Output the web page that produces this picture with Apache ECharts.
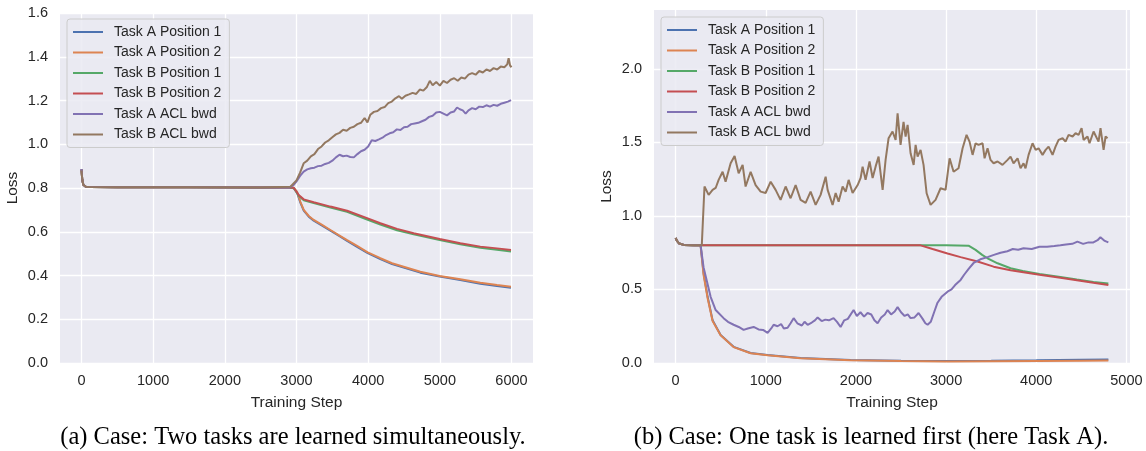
<!DOCTYPE html>
<html>
<head>
<meta charset="utf-8">
<script src="https://cdn.jsdelivr.net/npm/echarts@6/dist/echarts.min.js"></script>
<style>
html,body{margin:0;padding:0;background:#fff;}
#chart{width:1146px;height:451px;}
</style>
</head>
<body>
<div id="chart"></div>
<script>
// ---------- shared ----------
const seriesNames = ['Task A Position 1','Task A Position 2','Task B Position 1','Task B Position 2','Task A ACL bwd','Task B ACL bwd'];
const colors = ['#4C72B0','#DD8452','#55A868','#C44E52','#8172B3','#937860'];
const xTicksA = [0,1000,2000,3000,4000,5000,6000];
const yTicksA = [0,0.2,0.4,0.6,0.8,1.0,1.2,1.4,1.6];
const xTicksB = [0,1000,2000,3000,4000,5000];
const yTicksB = [0,0.5,1.0,1.5,2.0];
const captionA = '(a) Case: Two tasks are learned simultaneously.';
const captionB = '(b) Case: One task is learned first (here Task A).';

// ---------- plot (a): two tasks learned simultaneously ----------
const aBlueSteps = [0,10,25,60,125,500,1500,2500,2900,2961,3008,3054,3101,3171,3240,3357,3473,3589,3706,3845,3994,4170,4333,4495,4728,4998,5286,5565,5798,5993];
const aBlueLoss  = [0.885,0.84,0.815,0.806,0.804,0.803,0.803,0.802,0.802,0.799,0.779,0.733,0.697,0.669,0.651,0.628,0.605,0.582,0.558,0.531,0.502,0.475,0.452,0.436,0.413,0.395,0.379,0.362,0.352,0.344];
const aOrangeSteps = [0,10,25,60,125,500,1500,2500,2900,2961,3008,3054,3101,3171,3240,3357,3473,3589,3706,3845,3994,4170,4333,4495,4728,4998,5286,5565,5798,5993];
const aOrangeLoss  = [0.885,0.84,0.815,0.806,0.804,0.803,0.803,0.802,0.802,0.801,0.783,0.737,0.70,0.672,0.654,0.631,0.608,0.585,0.562,0.535,0.506,0.479,0.456,0.44,0.417,0.398,0.383,0.367,0.357,0.349];
const aGreenSteps = [0,10,25,60,125,500,1500,2500,2900,2961,3031,3101,3240,3473,3706,3994,4170,4403,4635,4998,5286,5565,5798,5993];
const aGreenLoss  = [0.885,0.84,0.815,0.806,0.804,0.803,0.803,0.802,0.802,0.800,0.765,0.744,0.731,0.711,0.691,0.655,0.633,0.607,0.588,0.562,0.543,0.527,0.518,0.510];
const aRedSteps = [0,10,25,60,125,500,1500,2500,2900,2961,3031,3101,3240,3473,3706,3994,4170,4403,4635,4998,5286,5565,5798,5993];
const aRedLoss  = [0.885,0.84,0.815,0.806,0.804,0.803,0.803,0.802,0.802,0.801,0.768,0.748,0.735,0.715,0.696,0.661,0.639,0.613,0.593,0.567,0.547,0.532,0.524,0.517];
const aPurpleSteps = [0,10,25,60,125,500,1500,2500,2900,2961,3000,3050,3100,3150,3200,3250,3300,3350,3400,3450,3500,3550,3600,3650,3700,3750,3800,3850,3900,3950,4000,4050,4100,4150,4200,4250,4300,4350,4400,4450,4500,4550,4600,4650,4700,4750,4800,4850,4900,4950,5000,5050,5100,5150,5200,5240,5280,5320,5360,5400,5450,5500,5550,5600,5650,5700,5750,5800,5850,5900,5950,5993];
const aPurpleLoss  = [0.887,0.84,0.815,0.806,0.804,0.803,0.803,0.802,0.802,0.814,0.83,0.855,0.875,0.885,0.89,0.893,0.9,0.902,0.91,0.915,0.925,0.94,0.952,0.945,0.948,0.942,0.94,0.955,0.968,0.975,0.99,1.018,1.015,1.022,1.03,1.042,1.05,1.055,1.068,1.065,1.078,1.08,1.092,1.095,1.098,1.105,1.112,1.125,1.13,1.145,1.148,1.14,1.132,1.145,1.15,1.168,1.16,1.155,1.14,1.155,1.165,1.16,1.172,1.17,1.178,1.172,1.18,1.176,1.185,1.19,1.195,1.202];
const aBrownSteps = [0,10,25,60,125,500,1500,2500,2915,3000,3050,3100,3150,3200,3250,3300,3350,3400,3450,3500,3550,3600,3650,3700,3750,3800,3850,3900,3950,3990,4030,4080,4130,4180,4230,4280,4330,4380,4430,4470,4520,4570,4620,4670,4720,4770,4820,4860,4900,4950,5000,5050,5100,5150,5200,5250,5300,5350,5400,5450,5500,5550,5600,5650,5700,5750,5800,5850,5900,5940,5960,5980,6000];
const aBrownLoss  = [0.88,0.84,0.815,0.806,0.804,0.803,0.803,0.802,0.806,0.835,0.87,0.913,0.925,0.945,0.955,0.978,0.99,1.008,1.018,1.032,1.045,1.052,1.066,1.062,1.075,1.08,1.092,1.098,1.12,1.10,1.135,1.148,1.152,1.165,1.17,1.188,1.195,1.21,1.22,1.208,1.222,1.228,1.235,1.23,1.25,1.245,1.262,1.29,1.27,1.285,1.268,1.29,1.28,1.295,1.302,1.29,1.305,1.30,1.318,1.325,1.318,1.335,1.328,1.342,1.335,1.348,1.342,1.355,1.352,1.365,1.393,1.36,1.352];

// ---------- plot (b): one task learned first ----------
const bBlueSteps = [0,15,40,90,200,277,310,355,410,499,643,832,1020,1386,1941,2500,3000,3500,4000,4500,4800];
const bBlueLoss  = [0.85,0.83,0.812,0.803,0.801,0.80,0.61,0.45,0.29,0.19,0.11,0.068,0.054,0.034,0.02,0.015,0.013,0.015,0.018,0.022,0.024];
const bOrangeSteps = [0,15,40,90,200,277,310,355,410,499,643,832,1020,1386,1941,2500,3000,3500,4000,4500,4800];
const bOrangeLoss  = [0.85,0.83,0.812,0.803,0.801,0.80,0.60,0.44,0.285,0.188,0.108,0.066,0.052,0.032,0.018,0.013,0.011,0.012,0.014,0.016,0.017];
const bGreenSteps = [0,15,40,90,200,1000,2000,3000,3249,3327,3400,3460,3571,3715,3850,4036,4268,4450,4634,4800];
const bGreenLoss  = [0.85,0.83,0.812,0.803,0.801,0.801,0.801,0.801,0.798,0.769,0.735,0.712,0.678,0.644,0.625,0.605,0.585,0.567,0.55,0.54];
const bRedSteps = [0,15,40,90,200,1000,2000,2717,2850,3016,3161,3349,3527,3715,4036,4268,4634,4800];
const bRedLoss  = [0.85,0.83,0.812,0.803,0.801,0.801,0.80,0.80,0.775,0.745,0.72,0.69,0.655,0.63,0.60,0.58,0.545,0.53];
const bPurpleSteps = [0,15,40,90,200,277,310,388,444,532,580,643,700,754,800,865,920,970,1020,1060,1087,1130,1170,1200,1242,1275,1309,1350,1400,1430,1464,1510,1545,1575,1620,1660,1700,1752,1790,1830,1870,1910,1974,2010,2050,2090,2129,2170,2205,2240,2280,2320,2351,2390,2430,2462,2500,2540,2575,2606,2650,2695,2740,2770,2795,2830,2870,2905,2950,3016,3060,3100,3161,3200,3250,3305,3380,3460,3530,3604,3680,3740,3800,3859,3950,4036,4120,4200,4268,4330,4400,4457,4520,4580,4634,4680,4712,4760,4800];
const bPurpleLoss  = [0.85,0.83,0.812,0.803,0.801,0.80,0.65,0.45,0.36,0.305,0.28,0.26,0.245,0.225,0.235,0.245,0.228,0.225,0.205,0.235,0.26,0.25,0.265,0.235,0.24,0.27,0.305,0.27,0.255,0.28,0.26,0.275,0.29,0.31,0.285,0.295,0.29,0.305,0.28,0.245,0.29,0.30,0.36,0.32,0.345,0.315,0.34,0.33,0.29,0.27,0.31,0.33,0.36,0.33,0.35,0.38,0.345,0.32,0.33,0.305,0.31,0.34,0.30,0.27,0.26,0.28,0.35,0.41,0.45,0.485,0.50,0.53,0.565,0.60,0.64,0.68,0.705,0.72,0.735,0.75,0.76,0.775,0.77,0.78,0.775,0.79,0.79,0.795,0.80,0.805,0.81,0.825,0.81,0.82,0.82,0.835,0.855,0.83,0.82];
const bBrownSteps = [0,15,40,90,200,290,320,366,410,444,477,521,554,610,654,699,743,776,832,887,943,998,1054,1109,1164,1220,1275,1331,1386,1442,1497,1553,1608,1664,1686,1741,1775,1808,1852,1886,1919,1963,2019,2052,2074,2107,2151,2185,2218,2251,2296,2329,2362,2406,2440,2462,2495,2528,2551,2573,2606,2640,2662,2684,2717,2750,2784,2828,2883,2939,2994,3039,3083,3138,3183,3227,3260,3294,3327,3360,3405,3427,3460,3493,3527,3571,3626,3682,3715,3748,3793,3826,3859,3881,3915,3959,3993,4026,4070,4104,4137,4181,4214,4248,4292,4325,4359,4403,4436,4470,4503,4525,4569,4591,4636,4658,4691,4713,4747,4769,4791];
const bBrownLoss  = [0.85,0.83,0.812,0.803,0.801,0.80,1.20,1.143,1.177,1.19,1.245,1.30,1.233,1.358,1.408,1.29,1.347,1.20,1.30,1.21,1.165,1.156,1.233,1.177,1.109,1.20,1.12,1.21,1.109,1.088,1.165,1.075,1.143,1.267,1.177,1.075,1.156,1.097,1.20,1.165,1.245,1.156,1.21,1.258,1.335,1.245,1.37,1.258,1.335,1.403,1.177,1.381,1.528,1.574,1.517,1.698,1.483,1.64,1.54,1.619,1.426,1.347,1.483,1.403,1.449,1.347,1.154,1.075,1.109,1.188,1.177,1.392,1.30,1.324,1.46,1.551,1.505,1.415,1.494,1.483,1.494,1.392,1.46,1.381,1.358,1.37,1.347,1.381,1.403,1.358,1.392,1.324,1.358,1.324,1.415,1.494,1.449,1.46,1.415,1.449,1.471,1.415,1.471,1.517,1.528,1.505,1.551,1.54,1.562,1.551,1.597,1.517,1.54,1.494,1.574,1.562,1.505,1.597,1.449,1.54,1.528];

const plotA = [[aBlueSteps,aBlueLoss],[aOrangeSteps,aOrangeLoss],[aGreenSteps,aGreenLoss],[aRedSteps,aRedLoss],[aPurpleSteps,aPurpleLoss],[aBrownSteps,aBrownLoss]];
const plotB = [[bBlueSteps,bBlueLoss],[bOrangeSteps,bOrangeLoss],[bGreenSteps,bGreenLoss],[bRedSteps,bRedLoss],[bPurpleSteps,bPurpleLoss],[bBrownSteps,bBrownLoss]];

const FONT = 'Liberation Sans';
const TXT = '#262626';
const zip = (xs, ys) => xs.map((x, i) => [x, ys[i]]);

function xAxisCfg(gridIndex, min, max, ticks) {
  return {
    type: 'value', gridIndex, min, max,
    name: 'Training Step', nameLocation: 'middle', nameGap: 32,
    nameTextStyle: {fontFamily: FONT, fontSize: 15.5, color: TXT},
    axisLine: {show: false}, axisTick: {show: false, customValues: ticks},
    axisLabel: {customValues: ticks, fontFamily: FONT, fontSize: 14.5, color: TXT, margin: 10,
      formatter: v => String(Math.round(v))},
    splitLine: {show: true, lineStyle: {color: '#ffffff', width: 1.3}}
  };
}
function yAxisCfg(gridIndex, min, max, ticks) {
  return {
    type: 'value', gridIndex, min, max,
    name: 'Loss', nameLocation: 'middle', nameGap: 39,
    nameTextStyle: {fontFamily: FONT, fontSize: 15.5, color: TXT},
    axisLine: {show: false}, axisTick: {show: false, customValues: ticks},
    axisLabel: {customValues: ticks, fontFamily: FONT, fontSize: 14.5, color: TXT, margin: 12,
      formatter: v => Number(v).toFixed(1)},
    splitLine: {show: true, lineStyle: {color: '#ffffff', width: 1.3}}
  };
}
function legendCfg(left, top) {
  return {
    orient: 'vertical', left, top,
    data: seriesNames,
    icon: 'rect', itemWidth: 30, itemHeight: 2,
    itemGap: 6.5,
    padding: [6, 8, 6, 6],
    backgroundColor: 'rgba(234,234,242,0.85)',
    borderColor: '#cccccc', borderWidth: 1, borderRadius: 3,
    textStyle: {fontFamily: FONT, fontSize: 14, color: TXT, padding: [0, 0, 0, 6]}
  };
}

const series = [];
plotA.forEach((p, i) => series.push({
  name: seriesNames[i], type: 'line', xAxisIndex: 0, yAxisIndex: 0,
  data: zip(p[0], p[1]), showSymbol: false, symbol: 'none',
  lineStyle: {width: 2, color: colors[i]}, itemStyle: {color: colors[i]}
}));
plotB.forEach((p, i) => series.push({
  name: seriesNames[i], type: 'line', xAxisIndex: 1, yAxisIndex: 1,
  data: zip(p[0], p[1]), showSymbol: false, symbol: 'none',
  lineStyle: {width: 2, color: colors[i]}, itemStyle: {color: colors[i]}
}));

const chart = echarts.init(document.getElementById('chart'), null, {renderer: 'canvas'});
chart.setOption({
  animation: false,
  backgroundColor: '#ffffff',
  grid: [
    {left: 60, top: 13, width: 473, height: 350, show: true, backgroundColor: '#EAEAF2', borderWidth: 0},
    {left: 654, top: 10, width: 476, height: 353, show: true, backgroundColor: '#EAEAF2', borderWidth: 0}
  ],
  xAxis: [xAxisCfg(0, -300, 6300, xTicksA), xAxisCfg(1, -240, 5040, xTicksB)],
  yAxis: [yAxisCfg(0, 0, 1.6, yTicksA), yAxisCfg(1, 0, 2.4, yTicksB)],
  legend: [legendCfg(67, 19), legendCfg(661, 17)],
  series,
  graphic: [
    {type: 'text', x: 293, y: 438, style: {text: captionA, fontFamily: 'Liberation Serif', fontSize: 24.5, fill: '#000', align: 'center', verticalAlign: 'middle'}},
    {type: 'text', x: 871, y: 438, style: {text: captionB, fontFamily: 'Liberation Serif', fontSize: 24.5, fill: '#000', align: 'center', verticalAlign: 'middle'}}
  ]
});
</script>
</body>
</html>
